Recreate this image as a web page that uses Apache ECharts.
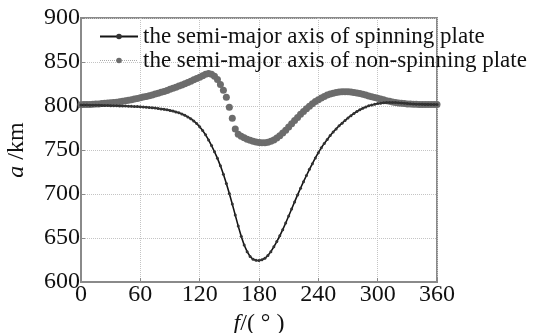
<!DOCTYPE html>
<html>
<head>
<meta charset="utf-8">
<script src="https://cdn.jsdelivr.net/npm/echarts@6/dist/echarts.min.js"></script>
<style>
  html, body { margin: 0; padding: 0; background: #fff; }
  #chart { width: 545px; height: 333px; }
</style>
</head>
<body>
<div id="chart"></div>
<script>
// true anomaly f (deg), one sample every 3 degrees
const angles = [
  0, 3, 6, 9, 12, 15, 18, 21, 24, 27, 30, 33, 36, 39, 42,
  45, 48, 51, 54, 57, 60, 63, 66, 69, 72, 75, 78, 81, 84, 87,
  90, 93, 96, 99, 102, 105, 108, 111, 114, 117, 120, 123, 126, 129, 132,
  135, 138, 141, 144, 147, 150, 153, 156, 159, 162, 165, 168, 171, 174, 177,
  180, 183, 186, 189, 192, 195, 198, 201, 204, 207, 210, 213, 216, 219, 222,
  225, 228, 231, 234, 237, 240, 243, 246, 249, 252, 255, 258, 261, 264, 267,
  270, 273, 276, 279, 282, 285, 288, 291, 294, 297, 300, 303, 306, 309, 312,
  315, 318, 321, 324, 327, 330, 333, 336, 339, 342, 345, 348, 351, 354, 357,
  360
];

// semi-major axis of spinning plate (km)
const spinning = [
  801.0, 801.0, 801.0, 800.9, 800.9, 800.8, 800.8, 800.7, 800.6, 800.5, 800.4, 800.3, 800.2, 800.1, 800.0,
  799.9, 799.8, 799.6, 799.5, 799.3, 799.1, 798.9, 798.6, 798.3, 798.0, 797.6, 797.2, 796.7, 796.2, 795.6,
  795.0, 794.2, 793.3, 792.2, 790.9, 789.4, 787.6, 785.5, 783.0, 780.0, 776.5, 772.2, 767.2, 761.5, 755.0,
  748.0, 740.5, 732.0, 722.5, 712.0, 700.5, 688.5, 676.0, 663.5, 652.0, 642.0, 634.5, 629.0, 625.8, 624.6,
  624.5, 625.2, 627.0, 630.0, 634.5, 640.0, 646.0, 652.5, 659.5, 667.0, 675.0, 683.0, 691.0, 699.0, 706.5,
  714.0, 721.0, 728.0, 734.5, 741.0, 747.0, 752.5, 757.5, 762.0, 766.5, 770.5, 774.0, 777.5, 780.5, 783.5,
  786.5, 789.0, 791.5, 793.8, 795.8, 797.5, 799.0, 800.2, 801.2, 802.0, 802.7, 803.2, 803.6, 803.9, 804.0,
  804.0, 803.9, 803.7, 803.4, 803.1, 802.8, 802.5, 802.3, 802.1, 802.0, 801.9, 801.8, 801.8, 801.7, 801.7,
  801.7
];

// semi-major axis of non-spinning plate (km)
const nonSpinning = [
  801.5, 801.6, 801.7, 801.8, 802.0, 802.2, 802.4, 802.7, 803.0, 803.3, 803.6, 804.0, 804.4, 804.9, 805.4,
  806.0, 806.6, 807.2, 807.9, 808.6, 809.3, 810.1, 810.9, 811.7, 812.6, 813.5, 814.5, 815.5, 816.6, 817.7,
  818.9, 820.1, 821.4, 822.7, 824.0, 825.4, 826.8, 828.2, 829.7, 831.2, 832.8, 834.5, 836.2, 836.8, 836.0,
  833.8, 830.0, 824.5, 818.0, 810.0, 798.5, 786.0, 774.0, 768.0, 765.5, 763.8, 762.3, 761.0, 759.9, 759.0,
  758.4, 758.1, 758.2, 758.8, 759.9, 761.5, 763.6, 766.2, 769.2, 772.5, 776.0, 779.7, 783.4, 787.0, 790.5,
  793.8, 796.9, 799.8, 802.5, 805.0, 807.2, 809.2, 810.9, 812.4, 813.6, 814.6, 815.3, 815.8, 816.1, 816.2,
  816.1, 815.8, 815.4, 814.8, 814.1, 813.3, 812.4, 811.5, 810.6, 809.7, 808.8, 807.9, 807.0, 806.1, 805.3,
  804.6, 804.0, 803.5, 803.1, 802.7, 802.4, 802.2, 802.0, 801.9, 801.8, 801.7, 801.7, 801.6, 801.6, 801.6,
  801.6
];

const seriesNames = [
  "the semi-major axis of spinning plate",
  "the semi-major axis of non-spinning plate"
];

const serif = "'Liberation Serif', 'Times New Roman', serif";

const chart = echarts.init(document.getElementById("chart"));

const option = {
  animation: false,
  backgroundColor: "#fff",
  grid: {
    left: 81,
    right: 108,
    top: 18,
    bottom: 51,
    containLabel: false,
    outerBoundsMode: "none",
    show: true,
    borderColor: "#8a8a8a",
    borderWidth: 2
  },
  legend: {
    orient: "vertical",
    left: 94,
    top: 20,
    itemWidth: 38,
    itemHeight: 7,
    itemGap: 1,
    textStyle: { fontFamily: serif, fontSize: 23, lineHeight: 21, color: "#111" },
    data: [
      { name: seriesNames[0] },
      {
        name: seriesNames[1],
        lineStyle: { width: 1, color: "#aaaaaa", type: "dotted", opacity: 1 }
      }
    ]
  },
  xAxis: {
    type: "value",
    min: 0,
    max: 360,
    interval: 60,
    name: "{i|f}/( \u00b0 )",
    nameLocation: "middle",
    nameGap: 27,
    nameTextStyle: {
      fontFamily: serif,
      fontSize: 24,
      color: "#111",
      rich: { i: { fontFamily: serif, fontStyle: "italic", fontSize: 24, color: "#111" } }
    },
    axisLine: { show: true, lineStyle: { color: "#8a8a8a", width: 2 } },
    axisTick: { show: true, inside: true, length: 4, lineStyle: { color: "#8a8a8a" } },
    axisLabel: { fontFamily: serif, fontSize: 24, color: "#111", margin: 1 },
    splitLine: { show: true, lineStyle: { color: "#c4c4c4", type: "dotted", width: 1 } }
  },
  yAxis: {
    type: "value",
    min: 600,
    max: 900,
    interval: 50,
    name: "{i|a} /km",
    nameLocation: "middle",
    nameGap: 52,
    nameRotate: 90,
    nameTextStyle: {
      fontFamily: serif,
      fontSize: 24,
      color: "#111",
      rich: { i: { fontFamily: serif, fontStyle: "italic", fontSize: 24, color: "#111" } }
    },
    axisLine: { show: true, lineStyle: { color: "#8a8a8a", width: 2 } },
    axisTick: { show: true, inside: true, length: 4, lineStyle: { color: "#8a8a8a" } },
    axisLabel: { fontFamily: serif, fontSize: 24, color: "#111", margin: 1 },
    splitLine: { show: true, lineStyle: { color: "#c4c4c4", type: "dotted", width: 1 } }
  },
  series: [
    {
      name: seriesNames[1],
      type: "line",
      data: angles.map((f, i) => [f, nonSpinning[i]]),
      symbol: "circle",
      symbolSize: 7,
      showAllSymbol: true,
      lineStyle: { width: 0, opacity: 0 },
      itemStyle: { color: "#6c6c6c" },
      z: 2
    },
    {
      name: seriesNames[0],
      type: "line",
      data: angles.map((f, i) => [f, spinning[i]]),
      symbol: "circle",
      symbolSize: 3,
      showAllSymbol: true,
      lineStyle: { width: 1.6, color: "#151515" },
      itemStyle: { color: "#333" },
      z: 3
    }
  ]
};

chart.setOption(option);
</script>
</body>
</html>
